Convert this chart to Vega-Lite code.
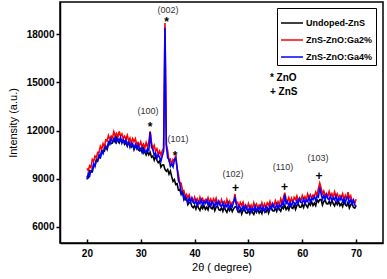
{
 "$schema": "https://vega.github.io/schema/vega-lite/v6.json",
 "width": 323, "height": 241,
 "autosize": "none",
 "padding": {"left": 60, "top": 2, "right": 4, "bottom": 36},
 "background": "white",
 "view": {"stroke": "black", "strokeWidth": 1.5},
 "config": {"font": "Liberation Sans"},
 "datasets": {
  "xrd": [
{"x":20,"u":9160,"r":9650,"b":8950},{"x":20.25,"u":9080,"r":9510,"b":9330},{"x":20.5,"u":9500,"r":9810,"b":9160},{"x":20.75,"u":9430,"r":9700,"b":9510},
{"x":21,"u":9430,"r":10200,"b":9540},{"x":21.25,"u":9850,"r":10090,"b":9930},{"x":21.5,"u":9840,"r":10410,"b":9760},{"x":21.75,"u":10190,"r":10300,"b":10140},
{"x":22,"u":10090,"r":10640,"b":10170},{"x":22.25,"u":10360,"r":10630,"b":10500},{"x":22.5,"u":10300,"r":11020,"b":10360},{"x":22.75,"u":10770,"r":10850,"b":10680},
{"x":23,"u":10680,"r":11180,"b":10560},{"x":23.25,"u":10710,"r":11000,"b":10960},{"x":23.5,"u":11020,"r":11420,"b":10960},{"x":23.75,"u":10820,"r":11360,"b":10900},
{"x":24,"u":11160,"r":11690,"b":11280},{"x":24.25,"u":11330,"r":11460,"b":11140},{"x":24.5,"u":11180,"r":11660,"b":11500},{"x":24.75,"u":11230,"r":11550,"b":11330},
{"x":25,"u":11480,"r":11930,"b":11350},{"x":25.25,"u":11280,"r":11660,"b":11590},{"x":25.5,"u":11570,"r":11830,"b":11270},{"x":25.75,"u":11360,"r":11580,"b":11480},
{"x":26,"u":11230,"r":11950,"b":11360},{"x":26.25,"u":11460,"r":11650,"b":11570},{"x":26.5,"u":11270,"r":11790,"b":11220},{"x":26.75,"u":11430,"r":11490,"b":11420},
{"x":27,"u":11140,"r":11640,"b":11270},{"x":27.25,"u":11240,"r":11470,"b":11420},{"x":27.5,"u":11030,"r":11700,"b":11100},{"x":27.75,"u":11330,"r":11360,"b":11260},
{"x":28,"u":11080,"r":11530,"b":10960},{"x":28.25,"u":10970,"r":11210,"b":11220},{"x":28.5,"u":11150,"r":11500,"b":11090},{"x":28.75,"u":10810,"r":11300,"b":10890},
{"x":29,"u":11010,"r":11490,"b":11130},{"x":29.25,"u":11060,"r":11150,"b":10880},{"x":29.5,"u":10810,"r":11250,"b":11130},{"x":29.75,"u":10740,"r":11030,"b":10840},
{"x":30,"u":10880,"r":11300,"b":10750},{"x":30.25,"u":10630,"r":11010,"b":10950},{"x":30.5,"u":10890,"r":11160,"b":10610},{"x":30.75,"u":10650,"r":10900,"b":10790},
{"x":31,"u":10480,"r":11250,"b":10640},{"x":31.25,"u":10700,"r":10970,"b":10860},{"x":31.5,"u":10490,"r":11310,"b":10760},{"x":31.75,"u":10640,"r":11950,"b":11900},
{"x":32,"u":10340,"r":11240,"b":10970},{"x":32.25,"u":10410,"r":10860,"b":10810},{"x":32.5,"u":10160,"r":11070,"b":10480},{"x":32.75,"u":10430,"r":10720,"b":10610},
{"x":33,"u":10150,"r":10870,"b":10290},{"x":33.25,"u":9990,"r":10500,"b":10510},{"x":33.5,"u":10110,"r":10720,"b":10330},{"x":33.75,"u":9720,"r":10460,"b":10090},
{"x":34,"u":9860,"r":10740,"b":10430},{"x":34.25,"u":9870,"r":10890,"b":10720},{"x":34.5,"u":9580,"r":18700,"b":18400},{"x":34.75,"u":9470,"r":11140,"b":11050},
{"x":35,"u":9580,"r":10750,"b":10300},{"x":35.25,"u":9290,"r":10130,"b":10190},{"x":35.5,"u":9490,"r":10210,"b":9780},{"x":35.75,"u":9130,"r":9870,"b":9920},
{"x":36,"u":8830,"r":10200,"b":9740},{"x":36.25,"u":8950,"r":10140,"b":10180},{"x":36.5,"u":8640,"r":10450,"b":10290},{"x":36.75,"u":8690,"r":9650,"b":9690},
{"x":37,"u":8290,"r":9240,"b":8870},{"x":37.25,"u":8330,"r":8760,"b":8710},{"x":37.5,"u":8030,"r":8720,"b":8130},{"x":37.75,"u":8240,"r":8270,"b":8170},
{"x":38,"u":7880,"r":8280,"b":7710},{"x":38.25,"u":7690,"r":7850,"b":7910},{"x":38.5,"u":7790,"r":8020,"b":7710},{"x":38.75,"u":7380,"r":7810,"b":7520},
{"x":39,"u":7510,"r":7990,"b":7780},{"x":39.25,"u":7550,"r":7670,"b":7540},{"x":39.5,"u":7280,"r":7780,"b":7800},{"x":39.75,"u":7200,"r":7570,"b":7520},
{"x":40,"u":7330,"r":7850,"b":7450},{"x":40.25,"u":7110,"r":7570,"b":7680},{"x":40.5,"u":7390,"r":7740,"b":7360},{"x":40.75,"u":7170,"r":7480,"b":7570},
{"x":41,"u":7030,"r":7850,"b":7460},{"x":41.25,"u":7300,"r":7590,"b":7690},{"x":41.5,"u":7140,"r":7760,"b":7370},{"x":41.75,"u":7340,"r":7500,"b":7590},
{"x":42,"u":7090,"r":7690,"b":7470},{"x":42.25,"u":7235,"r":7560,"b":7660},{"x":42.5,"u":7060,"r":7820,"b":7370},{"x":42.75,"u":7405,"r":7520,"b":7555},
{"x":43,"u":7200,"r":7730,"b":7290},{"x":43.25,"u":7120,"r":7440,"b":7575},{"x":43.5,"u":7320,"r":7745,"b":7460},{"x":43.75,"u":7010,"r":7570,"b":7285},
{"x":44,"u":7240,"r":7790,"b":7550},{"x":44.25,"u":7315,"r":7480,"b":7330},{"x":44.5,"u":7080,"r":7595,"b":7595},{"x":44.75,"u":7035,"r":7400,"b":7330},
{"x":45,"u":7200,"r":7700,"b":7270},{"x":45.25,"u":6980,"r":7420,"b":7495},{"x":45.5,"u":7260,"r":7585,"b":7175},{"x":45.75,"u":7050,"r":7330,"b":7380},
{"x":46,"u":6910,"r":7700,"b":7260},{"x":46.25,"u":7175,"r":7440,"b":7490},{"x":46.5,"u":7010,"r":7610,"b":7160},{"x":46.75,"u":7205,"r":7350,"b":7380},
{"x":47,"u":6950,"r":7540,"b":7250},{"x":47.25,"u":7130,"r":7560,"b":7560},{"x":47.5,"u":7250,"r":8050,"b":7800},{"x":47.75,"u":7270,"r":7470,"b":7420},
{"x":48,"u":7000,"r":7530,"b":7040},{"x":48.25,"u":6915,"r":7225,"b":7320},{"x":48.5,"u":7115,"r":7520,"b":7200},{"x":48.75,"u":6800,"r":7335,"b":7020},
{"x":49,"u":7030,"r":7540,"b":7280},{"x":49.25,"u":7115,"r":7230,"b":7060},{"x":49.5,"u":6890,"r":7345,"b":7325},{"x":49.75,"u":6855,"r":7150,"b":7060},
{"x":50,"u":7030,"r":7450,"b":7000},{"x":50.25,"u":6820,"r":7180,"b":7240},{"x":50.5,"u":7110,"r":7360,"b":6930},{"x":50.75,"u":6910,"r":7120,"b":7150},
{"x":51,"u":6780,"r":7500,"b":7040},{"x":51.25,"u":7055,"r":7245,"b":7285},{"x":51.5,"u":6900,"r":7420,"b":6970},{"x":51.75,"u":7105,"r":7165,"b":7205},
{"x":52,"u":6860,"r":7360,"b":7090},{"x":52.25,"u":7010,"r":7240,"b":7290},{"x":52.5,"u":6835,"r":7505,"b":7015},{"x":52.75,"u":7180,"r":7210,"b":7210},
{"x":53,"u":6980,"r":7430,"b":6960},{"x":53.25,"u":6920,"r":7160,"b":7270},{"x":53.5,"u":7145,"r":7495,"b":7185},{"x":53.75,"u":6860,"r":7350,"b":7040},
{"x":54,"u":7110,"r":7590,"b":7330},{"x":54.25,"u":7210,"r":7310,"b":7135},{"x":54.5,"u":7005,"r":7460,"b":7430},{"x":54.75,"u":6990,"r":7300,"b":7195},
{"x":55,"u":7180,"r":7630,"b":7160},{"x":55.25,"u":6980,"r":7380,"b":7415},{"x":55.5,"u":7285,"r":7575,"b":7120},{"x":55.75,"u":7100,"r":7350,"b":7355},
{"x":56,"u":6980,"r":7750,"b":7260},{"x":56.25,"u":7260,"r":7520,"b":7530},{"x":56.5,"u":7140,"r":7810,"b":7340},{"x":56.75,"u":7350,"r":8130,"b":7990},
{"x":57,"u":7080,"r":7740,"b":7450},{"x":57.25,"u":7230,"r":7550,"b":7580},{"x":57.5,"u":7060,"r":7820,"b":7310},{"x":57.75,"u":7410,"r":7545,"b":7520},
{"x":58,"u":7210,"r":7780,"b":7280},{"x":58.25,"u":7150,"r":7510,"b":7595},{"x":58.5,"u":7375,"r":7845,"b":7510},{"x":58.75,"u":7090,"r":7700,"b":7365},
{"x":59,"u":7340,"r":7940,"b":7660},{"x":59.25,"u":7440,"r":7650,"b":7465},{"x":59.5,"u":7235,"r":7795,"b":7760},{"x":59.75,"u":7220,"r":7630,"b":7525},
{"x":60,"u":7410,"r":7950,"b":7490},{"x":60.25,"u":7210,"r":7690,"b":7745},{"x":60.5,"u":7515,"r":7885,"b":7450},{"x":60.75,"u":7330,"r":7660,"b":7685},
{"x":61,"u":7210,"r":8050,"b":7590},{"x":61.25,"u":7495,"r":7815,"b":7850},{"x":61.5,"u":7350,"r":8010,"b":7545},{"x":61.75,"u":7565,"r":7775,"b":7790},
{"x":62,"u":7330,"r":7990,"b":7690},{"x":62.25,"u":7485,"r":7885,"b":7905},{"x":62.5,"u":7320,"r":8170,"b":7650},{"x":62.75,"u":7690,"r":7970,"b":7920},
{"x":63,"u":7540,"r":8380,"b":7860},{"x":63.25,"u":7700,"r":8720,"b":8470},{"x":63.5,"u":7700,"r":8420,"b":8060},{"x":63.75,"u":7360,"r":8060,"b":7720},
{"x":64,"u":7580,"r":8240,"b":7950},{"x":64.25,"u":7670,"r":7940,"b":7735},{"x":64.5,"u":7450,"r":8070,"b":8010},{"x":64.75,"u":7420,"r":7890,"b":7755},
{"x":65,"u":7600,"r":8200,"b":7700},{"x":65.25,"u":7380,"r":7910,"b":7930},{"x":65.5,"u":7660,"r":8075,"b":7605},{"x":65.75,"u":7450,"r":7820,"b":7810},
{"x":66,"u":7310,"r":8180,"b":7690},{"x":66.25,"u":7570,"r":7905,"b":7920},{"x":66.5,"u":7395,"r":8060,"b":7585},{"x":66.75,"u":7580,"r":7785,"b":7805},
{"x":67,"u":7320,"r":7960,"b":7670},{"x":67.25,"u":7450,"r":7815,"b":7855},{"x":67.5,"u":7265,"r":8065,"b":7570},{"x":67.75,"u":7595,"r":7750,"b":7755},
{"x":68,"u":7380,"r":7950,"b":7490},{"x":68.25,"u":7310,"r":7700,"b":7830},{"x":68.5,"u":7540,"r":8170,"b":7860},{"x":68.75,"u":7190,"r":7810,"b":7500},
{"x":69,"u":7390,"r":7940,"b":7680},{"x":69.25,"u":7460,"r":7600,"b":7430},{"x":69.5,"u":7220,"r":7685,"b":7665},{"x":69.75,"u":7170,"r":7460,"b":7370},
{"x":70,"u":7330,"r":7730,"b":7280}
  ],
  "notes": [
   {"t":"(100)","x":31.35,"v":13200,"k":"hkl"},
   {"t":"(002)","x":35.06,"v":19500,"k":"hkl"},
   {"t":"(101)","x":36.92,"v":11470,"k":"hkl"},
   {"t":"(102)","x":47.14,"v":9300,"k":"hkl"},
   {"t":"(110)","x":56.43,"v":9730,"k":"hkl"},
   {"t":"(103)","x":62.93,"v":10290,"k":"hkl"},
   {"t":"*","x":31.72,"v":12350,"k":"sym"},
   {"t":"*","x":34.78,"v":18880,"k":"sym"},
   {"t":"*","x":36.36,"v":10540,"k":"sym"},
   {"t":"+","x":47.6,"v":8550,"k":"sym"},
   {"t":"+","x":56.7,"v":8610,"k":"sym"},
   {"t":"+","x":63.1,"v":9300,"k":"sym"},
   {"t":"* ZnO","x":54.0,"v":15270,"k":"key"},
   {"t":"+ ZnS","x":54.0,"v":14400,"k":"key"}
  ]
 },
 "encoding": {
  "x": {"field": "x", "type": "quantitative",
   "scale": {"domain": [15, 75], "nice": false, "zero": false},
   "axis": {"values": [20, 30, 40, 50, 60, 70], "title": "2θ ( degree)", "grid": false,
    "titleFont": "Liberation Sans", "titleFontWeight": "normal", "titleFontSize": 11, "titleColor": "black", "titlePadding": 3,
    "labelFont": "Liberation Sans", "labelFontWeight": "bold", "labelFontSize": 10, "labelColor": "black", "labelPadding": 9,
    "tickSize": -4, "tickColor": "black", "tickWidth": 1.5, "domainColor": "black", "domainWidth": 1.5}},
  "y": {"field": "v", "type": "quantitative",
   "scale": {"domain": [5000, 20000], "nice": false, "zero": false},
   "axis": {"values": [6000, 9000, 12000, 15000, 18000], "format": "d", "title": "Intensity (a.u.)", "grid": false,
    "titleFont": "Liberation Sans", "titleFontWeight": "normal", "titleFontSize": 11, "titleColor": "black", "titlePadding": 8,
    "labelFont": "Liberation Sans", "labelFontWeight": "bold", "labelFontSize": 10, "labelColor": "black", "labelPadding": 2,
    "tickSize": 4, "tickColor": "black", "tickWidth": 1.5, "domainColor": "black", "domainWidth": 1.5}}
 },
 "layer": [
  {
   "data": {"name": "xrd"},
   "transform": [{"fold": ["u", "r", "b"], "as": ["s", "v"]}],
   "mark": {"type": "line", "strokeWidth": 1.6, "clip": true},
   "encoding": {
    "color": {"field": "s", "type": "nominal",
     "scale": {"domain": ["u", "r", "b"], "range": ["#000000", "#ff0000", "#0000ff"]},
     "legend": {"title": null, "orient": "none", "legendX": 217, "legendY": 6,
      "strokeColor": "black", "fillColor": "white", "padding": 3,
      "symbolType": "stroke", "symbolSize": 484, "symbolStrokeWidth": 1.5,
      "labelFont": "Liberation Sans", "labelFontWeight": "bold", "labelFontSize": 9, "labelColor": "black",
      "rowPadding": -7.5, "labelOffset": 2,
      "labelExpr": "datum.label == 'u' ? 'Undoped-ZnS' : datum.label == 'r' ? 'ZnS-ZnO:Ga2%' : 'ZnS-ZnO:Ga4%'"}}
   }
  },
  {
   "data": {"name": "notes"},
   "transform": [{"filter": "datum.k == 'hkl'"}],
   "mark": {"type": "text", "font": "Liberation Sans", "fontSize": 9, "color": "#333333", "align": "center", "baseline": "middle"},
   "encoding": {"text": {"field": "t"}}
  },
  {
   "data": {"name": "notes"},
   "transform": [{"filter": "datum.k == 'sym'"}],
   "mark": {"type": "text", "font": "Liberation Sans", "fontSize": 12, "fontWeight": "bold", "color": "black", "align": "center", "baseline": "middle", "dy": 2},
   "encoding": {"text": {"field": "t"}}
  },
  {
   "data": {"name": "notes"},
   "transform": [{"filter": "datum.k == 'key'"}],
   "mark": {"type": "text", "font": "Liberation Sans", "fontSize": 10, "fontWeight": "bold", "color": "black", "align": "left", "baseline": "middle"},
   "encoding": {"text": {"field": "t"}}
  }
 ]
}
